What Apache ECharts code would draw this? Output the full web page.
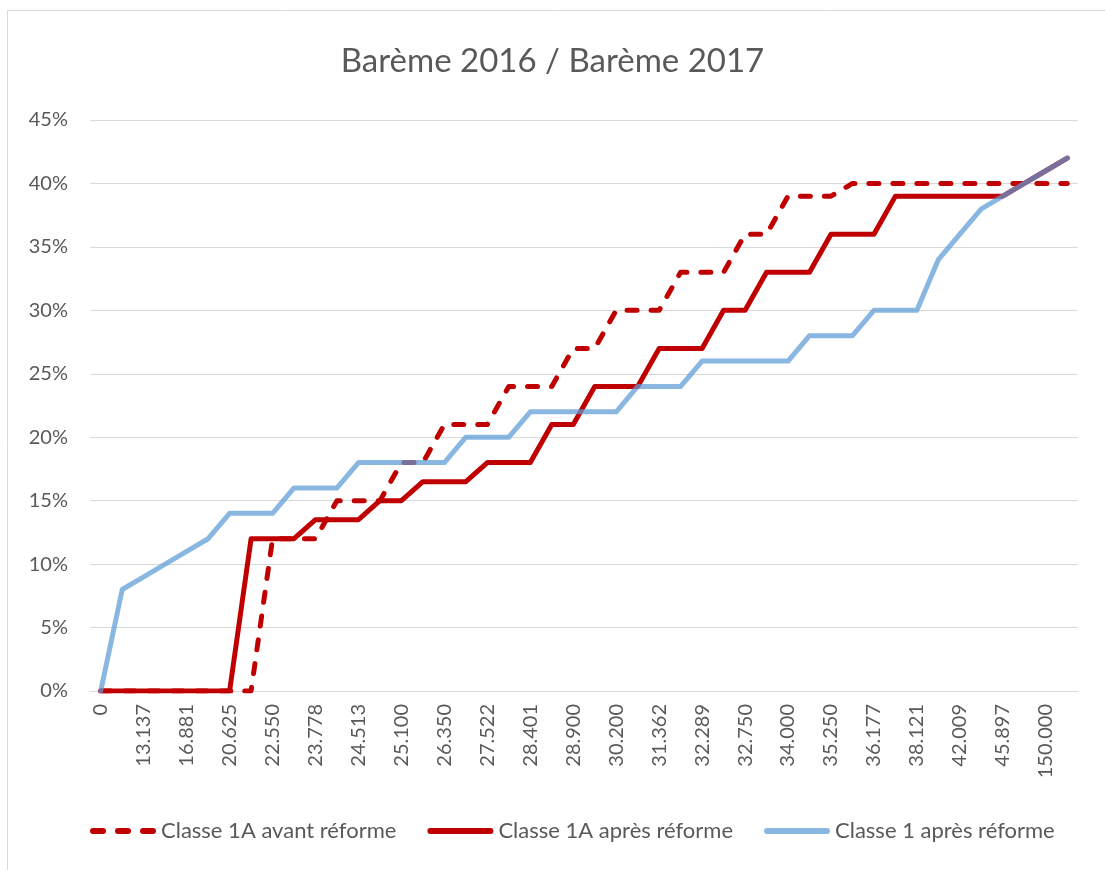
<!DOCTYPE html>
<html>
<head>
<meta charset="utf-8">
<script src="https://cdn.jsdelivr.net/npm/echarts@6/dist/echarts.min.js"></script>
<style>
html,body{margin:0;padding:0;background:#fff;}
#chart{width:1105px;height:870px;}
</style>
</head>
<body>
<div id="chart"></div>
<script>
var categories = ["0","11.265","13.137","15.009","16.881","18.753","20.625","21.900","22.550","23.000",
  "23.778","24.000","24.513","24.800","25.100","25.800","26.350","26.457","27.522","28.000",
  "28.401","28.650","28.900","30.000","30.200","30.345","31.362","32.000","32.289","32.500",
  "32.750","33.500","34.000","34.233","35.250","35.500","36.177","37.500","38.121","40.065",
  "42.009","43.953","45.897","100.000","150.000","200.004"];

var avant1A = [0,0,0,0,0,0,0,0,12,12,
  12,15,15,15,18,18,21,21,21,24,
  24,24,27,27,30,30,30,33,33,33,
  36,36,39,39,39,40,40,40,40,40,
  40,40,40,40,40,40];

var apres1A = [0,0,0,0,0,0,0,12,12,12,
  13.5,13.5,13.5,15,15,16.5,16.5,16.5,18,18,
  18,21,21,24,24,24,27,27,27,30,
  30,33,33,33,36,36,36,39,39,39,
  39,39,39,40,41,42];

var apres1 = [0,8,9,10,11,12,14,14,14,16,
  16,16,18,18,18,18,18,20,20,20,
  22,22,22,22,22,24,24,24,26,26,
  26,26,26,28,28,28,30,30,30,34,
  36,38,39,40,41,42];

var seriesNames = ["Classe 1A avant réforme","Classe 1A après réforme","Classe 1 après réforme"];
var titleText = "Barème 2016 / Barème 2017";

var FONT = "Lato";
var TXT = "#595959";
var RED = '#C00000';
var BLUE = 'rgba(91,155,213,0.72)';
var dashIcon = 'path://M3,0h10a3,3 0 0 1 0,6h-10a3,3 0 0 1 0,-6z M28,0h10a3,3 0 0 1 0,6h-10a3,3 0 0 1 0,-6z M53,0h10a3,3 0 0 1 0,6h-10a3,3 0 0 1 0,-6z';
var solidIcon = 'path://M3,0h60a3,3 0 0 1 0,6h-60a3,3 0 0 1 0,-6z';

var chart = echarts.init(document.getElementById('chart'));
chart.setOption({
  backgroundColor: '#ffffff',
  animation: false,
  title: {
    text: titleText,
    left: 'center',
    top: 40,
    textStyle: {fontFamily: FONT, fontSize: 33, fontWeight: 'normal', color: TXT}
  },
  graphic: [
    {type:'line', shape:{x1:7.5,y1:10.5,x2:1105,y2:10.5}, style:{stroke:'#d9d9d9', lineWidth:1}},
    {type:'line', shape:{x1:7.5,y1:10.5,x2:7.5,y2:870}, style:{stroke:'#d9d9d9', lineWidth:1}}
  ],
  legend: {
    top: 815,
    left: 85,
    itemWidth: 66,
    itemHeight: 6,
    itemGap: 31,
    textStyle: {fontFamily: FONT, fontSize: 22, color: TXT, lineHeight: 22},
    data: [
      {name: seriesNames[0], icon: dashIcon, itemStyle: {color: RED}},
      {name: seriesNames[1], icon: solidIcon, itemStyle: {color: RED}},
      {name: seriesNames[2], icon: solidIcon, itemStyle: {color: BLUE}}
    ]
  },
  grid: {left: 90, right: 27, top: 120, bottom: 179, containLabel: false},
  xAxis: {
    type: 'category',
    data: categories,
    boundaryGap: true,
    axisLine: {lineStyle: {color: '#d9d9d9', width: 1}},
    axisTick: {show: false},
    axisLabel: {interval: 1, rotate: 90, margin: 13, fontFamily: FONT, fontSize: 20, color: TXT}
  },
  yAxis: {
    type: 'value',
    min: 0, max: 45, interval: 5,
    axisLine: {show: false},
    axisTick: {show: false},
    axisLabel: {formatter: '{value}%', margin: 22, fontFamily: FONT, fontSize: 20, color: TXT},
    splitLine: {lineStyle: {color: '#d9d9d9', width: 1}}
  },
  series: [
    {
      name: seriesNames[0], type: 'line', data: avant1A, symbol: 'none',
      lineStyle: {color: RED, width: 5, type: [10, 14], cap: 'round', join: 'round'},
      itemStyle: {color: RED}
    },
    {
      name: seriesNames[1], type: 'line', data: apres1A, symbol: 'none',
      lineStyle: {color: RED, width: 5, cap: 'round', join: 'round'},
      itemStyle: {color: RED}
    },
    {
      name: seriesNames[2], type: 'line', data: apres1, symbol: 'none',
      lineStyle: {color: BLUE, width: 5, cap: 'round', join: 'round'},
      itemStyle: {color: BLUE}
    }
  ]
});
</script>
</body>
</html>
